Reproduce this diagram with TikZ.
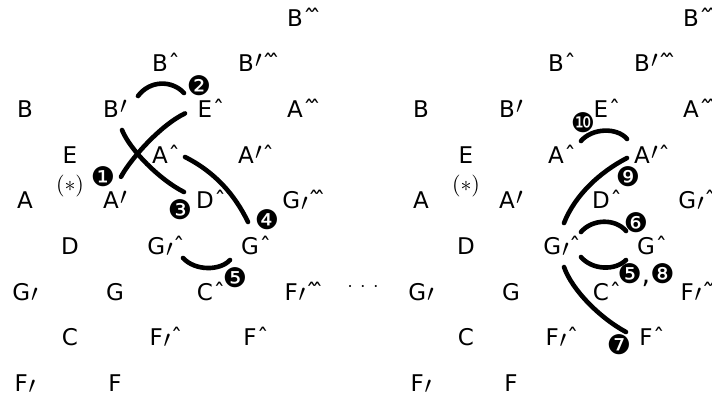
\documentclass[tikz,border=0pt]{standalone}
\usepackage{fontspec}
\setmainfont{DejaVu Sans}
\newcommand\cx{\rlap{\kern0.3pt ˆ}}
\newcommand\cxx{\rlap{\kern0.3pt ˆ\kern-0.25emˆ}}
\newcommand\uppr{\kern0.6pt\raisebox{2pt}{$\prime$}}
\newcommand\lowpr{\kern0.4pt\raisebox{-0.8pt}{$\prime$}}
\newcommand\lattice[1]{%
 \node[lt] (#1Bqq) at (295,26) {B\cxx};
 \node[lt] (#1Bq) at (160,71.7) {B\cx};
 \node[lt] (#1Bpqq) at (250,71.7) {B\uppr\cxx};
 \node[lt] (#1B) at (25,117.4) {B};
 \node[lt] (#1Bp) at (115,117.4) {B\uppr};
 \node[lt] (#1Eq) at (205,117.4) {E\cx};
 \node[lt] (#1Aqq) at (295,117.4) {A\cxx};
 \node[lt] (#1E) at (70,163.1) {E};
 \node[lt] (#1Aq) at (160,163.1) {A\cx};
 \node[lt] (#1Apq) at (250,163.1) {A\uppr\cx};
 \node[star] (#1st) at (70,186) {$(*)$};
 \node[lt] (#1A) at (25,208.8) {A};
 \node[lt] (#1Ap) at (115,208.8) {A\uppr};
 \node[lt] (#1Dq) at (205,208.8) {D\cx};
 \node[lt] (#1Gcqq) at (295,208.8) {G\lowpr\cxx};
 \node[lt] (#1D) at (70,254.5) {D};
 \node[lt] (#1Gcq) at (160,254.5) {G\lowpr\cx};
 \node[lt] (#1Gq) at (250,254.5) {G\cx};
 \node[lt] (#1Gc) at (25,300.2) {G\lowpr};
 \node[lt] (#1G) at (115,300.2) {G};
 \node[lt] (#1Cq) at (205,300.2) {C\cx};
 \node[lt] (#1Fcqq) at (295,300.2) {F\lowpr\cxx};
 \node[lt] (#1C) at (70,345.9) {C};
 \node[lt] (#1Fcq) at (160,345.9) {F\lowpr\cx};
 \node[lt] (#1Fq) at (250,345.9) {F\cx};
 \node[lt] (#1Fc) at (25,391.6) {F\lowpr};
 \node[lt] (#1F) at (115,391.6) {F};
}
\begin{document}
\begin{tikzpicture}[x=0.5pt,y=-0.5pt,
  lt/.style={anchor=base,inner sep=0pt,font=\fontsize{11.5}{13}\selectfont},
  star/.style={inner sep=0pt,font=\fontsize{11}{13}\selectfont},
  badge/.style={inner sep=0pt,font=\fontsize{13.5}{15}\selectfont},
  arcline/.style={line width=2.3pt,line cap=round}]
\useasboundingbox (0,0) rectangle (712,398);
\clip (0,0) rectangle (712,398);
\lattice{L}
\begin{scope}[shift={(396,0)}]
\lattice{R}
\end{scope}
\node[inner sep=0pt] (dots) at (363,287) {$\cdot$\hspace{3.7pt}$\cdot$\hspace{3.7pt}$\cdot$};
% left curves
\draw[arcline] ([shift={(6,-32)}]LAp.base) .. controls +(9,-17) and +(-25,12) .. ([shift={(-20,-4)}]LEq.base);
\draw[arcline] ([shift={(23,-21.4)}]LBp.base) .. controls +(12,-16) and +(-12,-13) .. ([shift={(-21,-24.4)}]LEq.base);
\draw[arcline] ([shift={(7,12.6)}]LBp.base) .. controls +(8,20) and +(-24,-12) .. ([shift={(-21,-16.8)}]LDq.base);
\draw[arcline] ([shift={(25,-6.1)}]LAq.base) .. controls +(30,15) and +(-13,-27) .. ([shift={(-2,-32.5)}]LGq.base);
\draw[arcline] ([shift={(23,3.5)}]LGcq.base) .. controls +(12,13) and +(-10,11) .. ([shift={(-20,5.5)}]LGq.base);
% right curves
\draw[arcline] ([shift={(25,-22.1)}]RAq.base) .. controls +(11,-13) and +(-10,-12) .. ([shift={(-19,-24.1)}]RApq.base);
\draw[arcline] ([shift={(-19,-5.1)}]RApq.base) .. controls +(-27,14) and +(11,-28) .. ([shift={(8,-31.5)}]RGcq.base);
\draw[arcline] ([shift={(25,-22.5)}]RGcq.base) .. controls +(11,-13) and +(-11,-13) .. ([shift={(-20,-23.5)}]RGq.base);
\draw[arcline] ([shift={(25,2.5)}]RGcq.base) .. controls +(11,13) and +(-11,11) .. ([shift={(-20,5.5)}]RGq.base);
\draw[arcline] ([shift={(8,12.5)}]RGcq.base) .. controls +(8,23) and +(-26,-14) .. ([shift={(-20,-13.9)}]RFq.base);
% badges
\node[badge] (b1) at (103,177) {❶};
\node[badge] (b2) at (199,86) {❷};
\node[badge] (b3) at (180,210) {❸};
\node[badge] (b4) at (267,220) {❹};
\node[badge] (b5) at (235,278) {❺};
\node[badge] (b10) at (583,123) {❿};
\node[badge] (b9) at (628,177) {❾};
\node[badge] (b6) at (636,223) {❻};
\node[badge] (b58) at (646,275) {❺,❽};
\node[badge] (b7) at (619,345) {❼};
\end{tikzpicture}
\end{document}
